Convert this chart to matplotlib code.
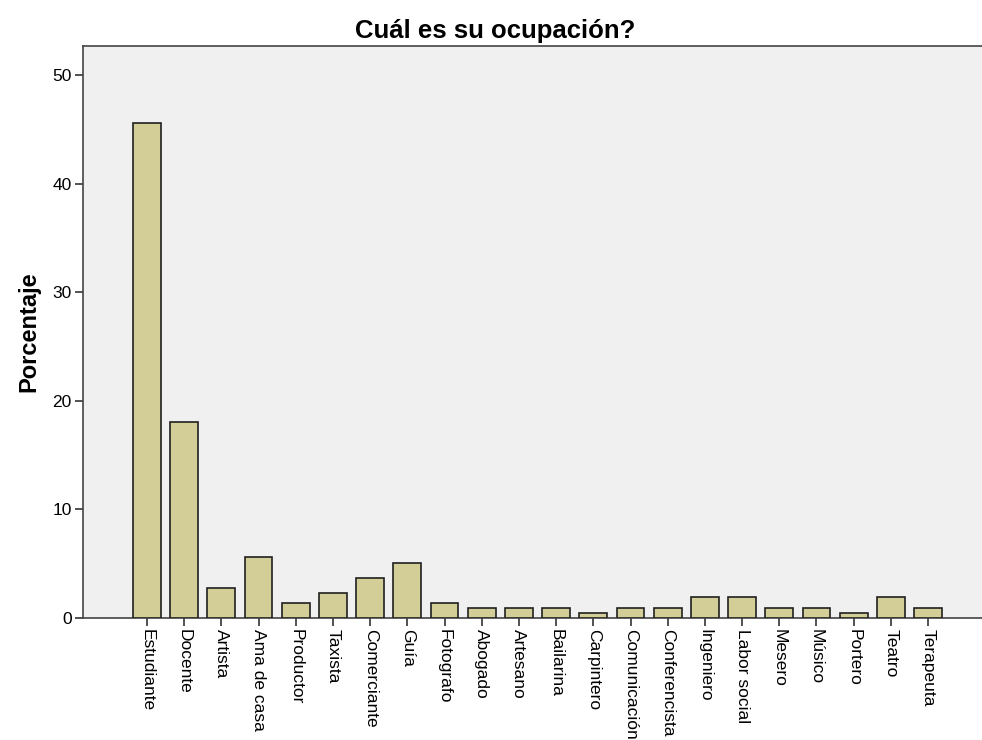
import matplotlib
matplotlib.use('Agg')
import matplotlib.pyplot as plt

ocupaciones = ['Estudiante', 'Docente', 'Artista', 'Ama de casa', 'Productor',
               'Taxista', 'Comerciante', 'Guía', 'Fotografo', 'Abogado',
               'Artesano', 'Bailarina', 'Carpintero', 'Comunicación',
               'Conferencista', 'Ingeniero', 'Labor social', 'Mesero',
               'Músico', 'Portero', 'Teatro', 'Terapeuta']
porcentaje = [45.6, 18.1, 2.8, 5.6, 1.4, 2.3, 3.7, 5.1, 1.4, 0.9,
              0.9, 0.9, 0.5, 0.9, 0.9, 1.9, 1.9, 0.9, 0.9, 0.5, 1.9, 0.9]
yticks = [0, 10, 20, 30, 40, 50]

plt.rcParams['font.family'] = ['Liberation Sans', 'DejaVu Sans']

fig = plt.figure(figsize=(9.82, 7.40), dpi=100)
ax = fig.add_axes([0.0845, 0.1649, 0.9155, 0.7729])
ax.set_facecolor('#f0f0f0')

x = list(range(len(ocupaciones)))
ax.bar(x, porcentaje, width=0.75, color='#d3ce97', edgecolor='#202020', linewidth=1.2, zorder=3)

ax.set_xlim(-1.72, 22.45)
ax.set_ylim(0, 52.7)
ax.set_yticks(yticks)
ax.set_xticks(x)
ax.set_xticklabels(ocupaciones, rotation=270, fontsize=12.5)
ax.tick_params(axis='y', labelsize=12.5, length=6, width=1.2, color='#333333', pad=2)
ax.tick_params(axis='x', length=6, width=1.2, color='#333333', pad=2)

for s in ['left', 'bottom', 'top']:
    ax.spines[s].set_color('#444444')
    ax.spines[s].set_linewidth(1.2)
ax.spines['right'].set_visible(False)

ax.set_ylabel('Porcentaje', fontsize=17, fontweight='bold', labelpad=9)
ax.set_title('Cuál es su ocupación?', fontsize=18.5, fontweight='bold', x=0.458, pad=6)

fig.savefig('out.png', dpi=100)
